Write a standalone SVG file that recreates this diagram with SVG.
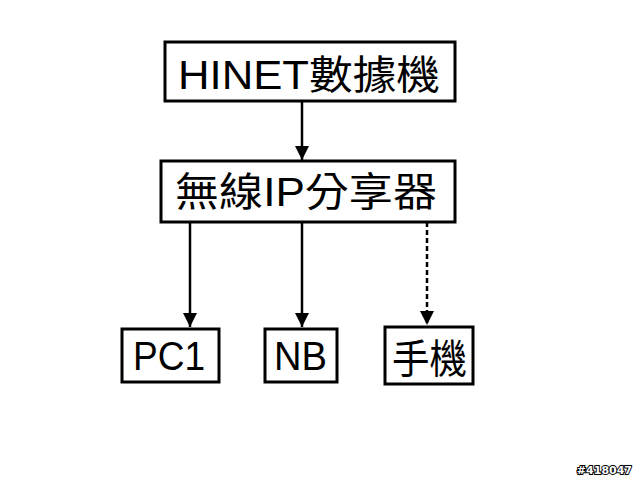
<svg xmlns="http://www.w3.org/2000/svg" width="640" height="480" viewBox="0 0 640 480">
<style>
.box{fill:#fff;stroke:#000;stroke-width:3}
.t{font-family:"Liberation Sans","Noto Sans CJK TC",sans-serif;font-size:40px;fill:#000}
.c{stroke:#000;stroke-width:2.5;fill:none}
.d{stroke-dasharray:5,3}
.wm{font-family:"DejaVu Sans",sans-serif;font-size:11px;font-weight:bold;fill:#fff;stroke:#000;stroke-width:2;paint-order:stroke;text-anchor:end}
</style>
<defs>
<marker id="a" viewBox="0 0 12 12" refX="12" refY="6" markerWidth="14" markerHeight="14" orient="auto" markerUnits="userSpaceOnUse">
<path d="M0,0 L12,6 L0,12 z" fill="#000"/>
</marker>
</defs>
<rect width="640" height="480" fill="#fff"/>
<g id="connectors">
<line class="c" x1="302" y1="101" x2="302" y2="160" marker-end="url(#a)"/>
<line class="c" x1="190" y1="222" x2="190" y2="327" marker-end="url(#a)"/>
<line class="c" x1="302" y1="222" x2="302" y2="327" marker-end="url(#a)"/>
<line class="c d" x1="427" y1="222" x2="427" y2="325" marker-end="url(#a)"/>
</g>
<g id="hinet">
<rect class="box" x="165" y="42" width="290" height="59"/>
<text class="t" x="178" y="89" textLength="262" lengthAdjust="spacingAndGlyphs">HINET數據機</text>
</g>
<g id="router">
<rect class="box" x="161" y="161" width="294" height="61"/>
<text class="t" x="175" y="206" textLength="262" lengthAdjust="spacingAndGlyphs">無線IP分享器</text>
</g>
<g id="pc1">
<rect class="box" x="122" y="329" width="97" height="53"/>
<text class="t" x="133" y="370" textLength="72" lengthAdjust="spacingAndGlyphs">PC1</text>
</g>
<g id="nb">
<rect class="box" x="265" y="329" width="72" height="53"/>
<text class="t" x="274" y="370" textLength="53" lengthAdjust="spacingAndGlyphs">NB</text>
</g>
<g id="phone">
<rect class="box" x="385" y="327" width="88" height="57"/>
<text class="t" x="392" y="373" textLength="75" lengthAdjust="spacingAndGlyphs">手機</text>
</g>
<text class="wm" x="632" y="474">#418047</text>
</svg>
